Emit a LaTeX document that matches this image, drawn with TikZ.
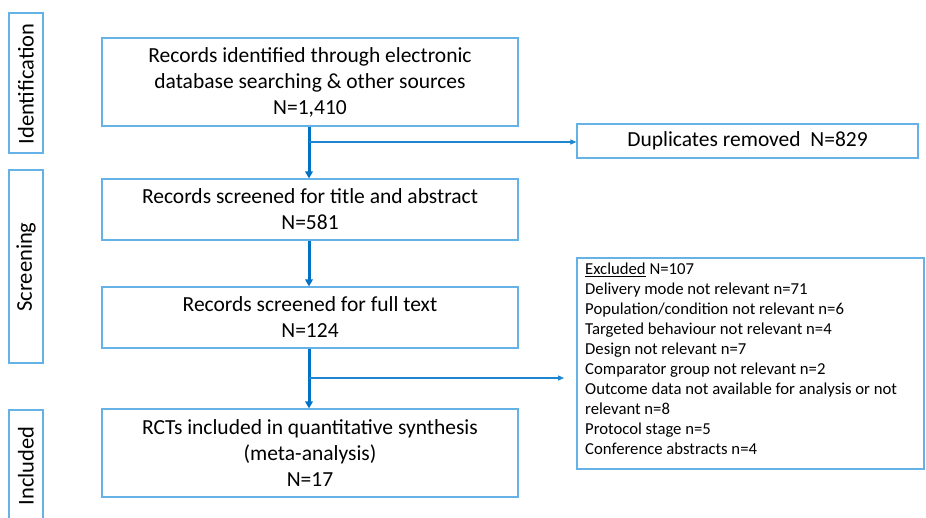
\documentclass[tikz,border=0pt]{standalone}
\usepackage{fontspec}
\setmainfont{Carlito}
\usetikzlibrary{arrows.meta}
\definecolor{boxblue}{RGB}{100,178,230}
\definecolor{arrblue}{RGB}{0,114,198}
\begin{document}
\begin{tikzpicture}[x=1pt,y=-1pt,
  box/.style={draw=boxblue,line width=1.2pt,inner sep=0pt,font=\fontsize{21.5}{26}\selectfont,align=center},
  side/.style={draw=boxblue,line width=1.2pt,inner sep=0pt},
  sidetext/.style={rotate=90,font=\fontsize{22.5}{26}\selectfont},
  flow/.style={arrblue,line width=3pt,-{Triangle[length=7pt,width=7.5pt]}},
  branch/.style={arrblue!70!boxblue,line width=1.1pt,-{Triangle[length=6pt,width=5pt]}}]
\clip (0,0) rectangle (926,517);
% side labels
\draw[side] (9,13) rectangle (43,153);
\node[sidetext] (lid) at (26,84) {Identification};
\draw[side] (9,170) rectangle (43,363);
\node[sidetext] (lsc) at (26,267) {Screening};
\draw[side] (9,410) rectangle (43,530);
\node[sidetext] (lin) at (26,466) {Included};
% main boxes
\node[box,minimum width=416pt,minimum height=88pt] (b1) at (310,82)
  {Records identified through electronic\\database searching \& other sources\\N=1,410};
\node[box,minimum width=416pt,minimum height=61pt] (b2) at (310,209.5)
  {Records screened for title and abstract\\N=581};
\node[box,minimum width=416pt,minimum height=61pt] (b3) at (310,317.5)
  {Records screened for full text\\N=124};
\node[box,minimum width=416pt,minimum height=88pt] (b4) at (310,453)
  {RCTs included in quantitative synthesis\\(meta-analysis)\\N=17};
\node[box,minimum width=341pt,minimum height=34pt] (dup) at (747.5,141)
  {Duplicates removed\ \ N=829};
\node[draw=boxblue,line width=1.2pt,inner sep=0pt,minimum width=347pt,minimum height=211pt] (exc) at (750.5,363.5) {};
\node[anchor=north west,align=left,inner sep=0pt,font=\fontsize{16.7}{20}\selectfont] (exct) at (585,263)
  {\underline{Excluded} N=107\\
   Delivery mode not relevant n=71\\
   Population/condition not relevant n=6\\
   Targeted behaviour not relevant n=4\\
   Design not relevant n=7\\
   Comparator group not relevant n=2\\
   Outcome data not available for analysis or not\\
   relevant n=8\\
   Protocol stage n=5\\
   Conference abstracts\ n=4};
% connectors
\coordinate (j1) at (309,142);
\coordinate (j2) at (309,378);
\coordinate (e2) at (564,378);
\draw[flow] (b1.south -| j1) -- (b2.north -| j1);
\draw[flow] (b2.south -| j1) -- (b3.north -| j1);
\draw[flow] (b3.south -| j1) -- (b4.north -| j1);
\draw[branch] (j1) -- (dup.west |- j1);
\draw[branch] (j2) -- (e2);
\end{tikzpicture}
\end{document}
